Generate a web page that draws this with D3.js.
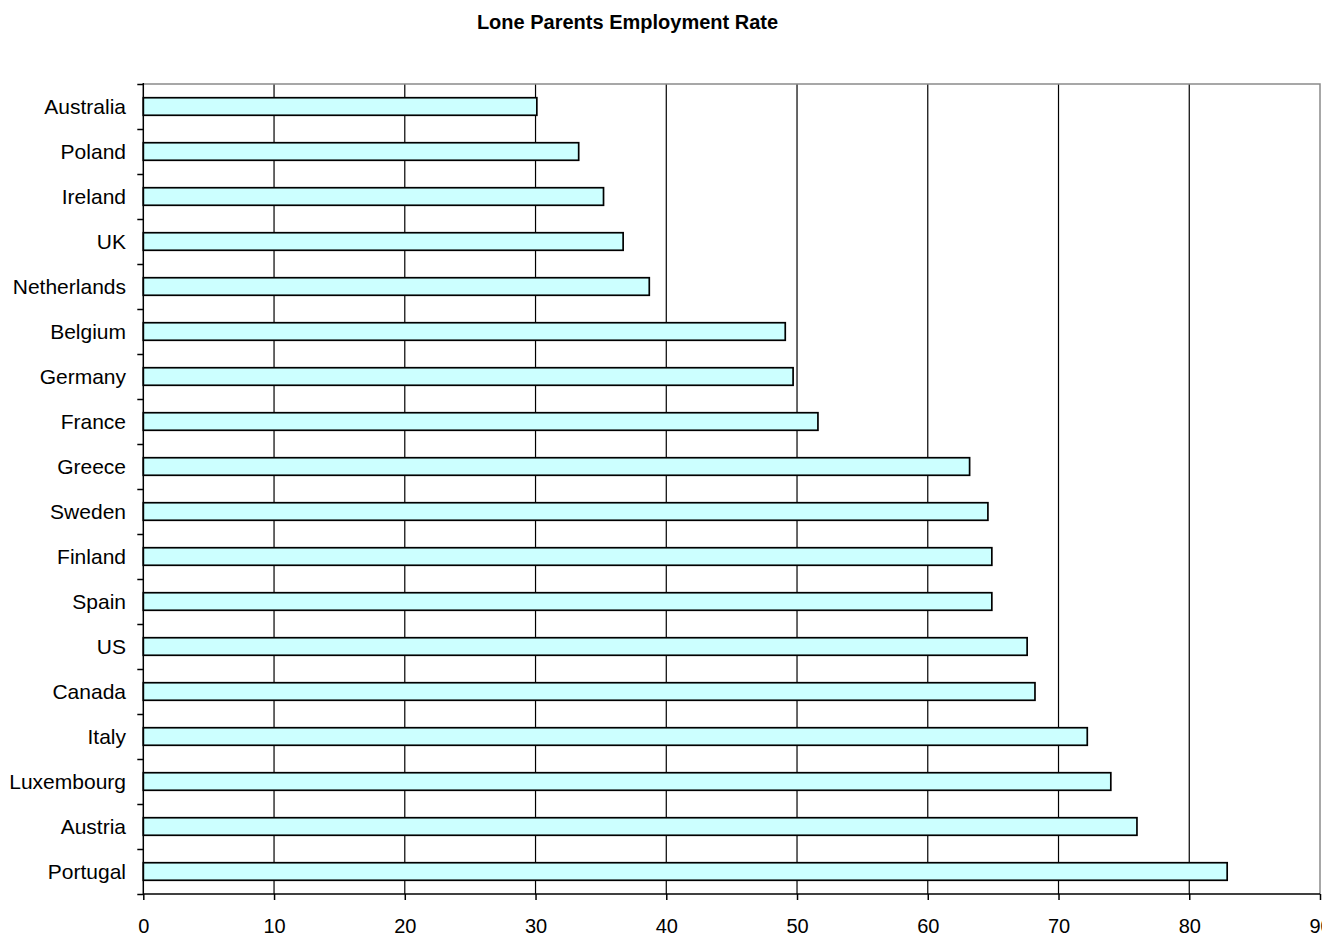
<!DOCTYPE html>
<html>
<head>
<meta charset="utf-8">
<script src="https://cdn.jsdelivr.net/npm/d3@7"></script>
<style>
  html, body { margin: 0; padding: 0; background: #fff; }
  svg { display: block; font-family: "Liberation Sans", Arial, sans-serif; }
</style>
</head>
<body>
<svg id="chart" width="1322" height="941"></svg>
<script>
// Lone parents employment rate (%) by country
const countries = ["Australia", "Poland", "Ireland", "UK", "Netherlands", "Belgium", "Germany",
  "France", "Greece", "Sweden", "Finland", "Spain", "US", "Canada", "Italy", "Luxembourg",
  "Austria", "Portugal"];
const rates = [30.1, 33.3, 35.2, 36.7, 38.7, 49.1, 49.7, 51.6, 63.2, 64.6, 64.9, 64.9, 67.6,
  68.2, 72.2, 74.0, 76.0, 82.9];
const xTicks = [0, 10, 20, 30, 40, 50, 60, 70, 80, 90];
const title = "Lone Parents Employment Rate";

const svg = d3.select("#chart");
const plot = { left: 143.3, right: 1320, top: 84, bottom: 894 };

const x = d3.scaleLinear().domain([0, 90]).range([plot.left, plot.right]);
const y = d3.scaleBand().domain(countries).range([plot.top, plot.bottom])
  .paddingInner(0.61).paddingOuter(0.305);
// category boundaries for the left-axis tick marks
const yEdge = d3.scaleLinear().domain([0, countries.length]).range([plot.top, plot.bottom]);

// title
svg.append("text")
  .attr("x", 627.5).attr("y", 29)
  .attr("text-anchor", "middle")
  .attr("font-size", 20).attr("font-weight", "bold")
  .text(title);

// vertical gridlines
svg.append("g")
  .selectAll("line")
  .data(xTicks.filter(t => t > 0 && t < 90))
  .join("line")
  .attr("x1", d => x(d)).attr("x2", d => x(d))
  .attr("y1", plot.top).attr("y2", plot.bottom)
  .attr("stroke", "#000").attr("stroke-width", 1.2);

// plot frame (top and right)
svg.append("path")
  .attr("d", `M${plot.left},${plot.top}H${plot.right}V${plot.bottom}`)
  .attr("fill", "none").attr("stroke", "#8a8a8a").attr("stroke-width", 1.5);

// bars
svg.append("g")
  .selectAll("rect")
  .data(countries.map((c, i) => ({ c, v: rates[i] })))
  .join("rect")
  .attr("x", x(0))
  .attr("y", d => y(d.c))
  .attr("width", d => x(d.v) - x(0))
  .attr("height", y.bandwidth())
  .attr("fill", "#ccffff")
  .attr("stroke", "#000").attr("stroke-width", 1.7);

// x axis
const xAxis = svg.append("g")
  .attr("transform", `translate(0,${plot.bottom})`)
  .call(d3.axisBottom(x).tickValues(xTicks).tickSize(6).tickPadding(19).tickFormat(d3.format("d")));
xAxis.select(".domain").attr("stroke", "#000").attr("stroke-width", 1.5)
  .attr("d", `M${plot.left},0H${plot.right}`);
xAxis.selectAll(".tick line").attr("stroke", "#000").attr("stroke-width", 1.5);
xAxis.selectAll(".tick text").attr("font-size", 20).attr("fill", "#000")
  .attr("font-family", "Liberation Sans, Arial, sans-serif");

// y axis: ticks on category boundaries
const yAxis = svg.append("g")
  .attr("transform", `translate(${plot.left},0)`)
  .call(d3.axisLeft(yEdge).tickValues(d3.range(countries.length + 1)).tickSize(6).tickFormat(""));
yAxis.select(".domain").attr("stroke", "#000").attr("stroke-width", 1.5)
  .attr("d", `M0,${plot.top - 1}V${plot.bottom}`);
yAxis.selectAll(".tick line").attr("stroke", "#000").attr("stroke-width", 1.5);

// category labels
svg.append("g")
  .selectAll("text")
  .data(countries)
  .join("text")
  .attr("x", 126)
  .attr("y", d => y(d) + y.bandwidth() / 2)
  .attr("dy", "0.35em")
  .attr("text-anchor", "end")
  .attr("font-size", 21)
  .attr("fill", "#000")
  .text(d => d);
</script>
</body>
</html>
